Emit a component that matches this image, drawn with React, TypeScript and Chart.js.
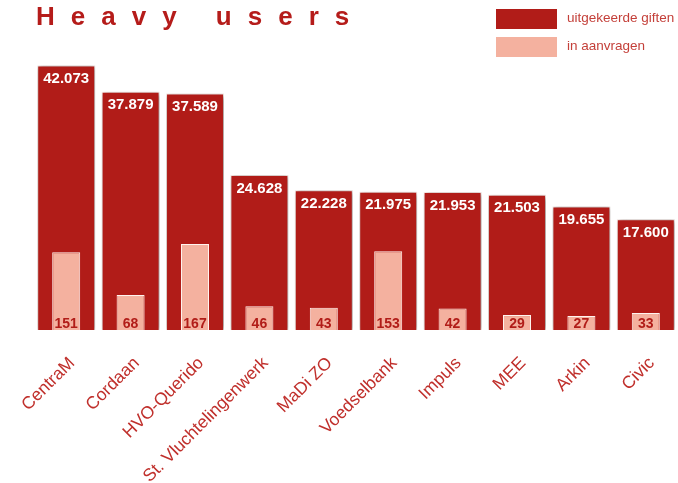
import React, { useEffect, useRef } from 'react';
import { Chart, registerables } from 'chart.js';

Chart.register(...registerables);

const categories = ['CentraM', 'Cordaan', 'HVO-Querido', 'St. Vluchtelingenwerk', 'MaDi ZO', 'Voedselbank', 'Impuls', 'MEE', 'Arkin', 'Civic'];
const giften = [42073, 37879, 37589, 24628, 22228, 21975, 21953, 21503, 19655, 17600];
const aanvragen = [151, 68, 167, 46, 43, 153, 42, 29, 27, 33];
const titleText = 'Heavy users';
const legendLabels = ['uitgekeerde giften', 'in aanvragen'];

const DARK = '#b11c18';
const PINK = '#f4b19f';
const TEXT_RED = '#c0302c';

function fmt(n: number): string {
  return String(n).replace(/\B(?=(\d{3})+(?!\d))/g, '.');
}

export default function App() {
  const ref = useRef<HTMLCanvasElement>(null);

  useEffect(() => {
    if (!ref.current) return;
    const overlay = {
      id: 'overlay',
      beforeDatasetDraw(chart: any, args: any) {
        if (args.index === 0) {
          const ctx = chart.ctx;
          ctx.save();
          ctx.shadowColor = 'rgba(0,0,0,0.5)';
          ctx.shadowBlur = 5;
          ctx.shadowOffsetX = 1;
          ctx.shadowOffsetY = 1;
        }
      },
      afterDatasetDraw(chart: any, args: any) {
        if (args.index === 0) chart.ctx.restore();
      },
      afterDatasetsDraw(chart: any) {
        const ctx = chart.ctx;
        ctx.save();
        const m0 = chart.getDatasetMeta(0);
        ctx.font = 'bold 15px "Liberation Sans", Arial, sans-serif';
        ctx.fillStyle = '#ffffff';
        ctx.textAlign = 'center';
        ctx.textBaseline = 'top';
        m0.data.forEach((el: any, i: number) => {
          ctx.fillText(fmt(giften[i]), el.x, el.y + 6);
        });
        const m1 = chart.getDatasetMeta(1);
        ctx.font = 'bold 14px "Liberation Sans", Arial, sans-serif';
        ctx.fillStyle = DARK;
        ctx.textBaseline = 'alphabetic';
        m1.data.forEach((el: any, i: number) => {
          ctx.fillText(String(aanvragen[i]), el.x, el.base - 2);
        });
        ctx.restore();
      },
      afterDraw(chart: any) {
        const ctx = chart.ctx;
        ctx.save();
        ctx.font = 'bold 26px "Liberation Sans", Arial, sans-serif';
        ctx.fillStyle = '#b51c1a';
        ctx.textAlign = 'left';
        ctx.textBaseline = 'alphabetic';
        let x = 36;
        for (const ch of titleText) {
          ctx.fillText(ch, x, 25);
          x += ctx.measureText(ch).width + 16;
        }
        const colors = [DARK, PINK];
        ctx.font = '13.5px "Liberation Sans", Arial, sans-serif';
        ctx.textBaseline = 'middle';
        legendLabels.forEach((lab, i) => {
          const y = 9 + i * 28;
          ctx.fillStyle = colors[i];
          ctx.fillRect(496, y, 61, 20);
          ctx.fillStyle = '#c4403a';
          ctx.fillText(lab, 567, y + 9);
        });
        ctx.restore();
      },
    };

    const chart = new Chart(ref.current, {
      type: 'bar',
      data: {
        labels: categories,
        datasets: [
          {
            label: legendLabels[0],
            data: giften,
            backgroundColor: DARK,
            borderColor: 'rgba(255,235,230,0.7)',
            borderWidth: 1,
            barPercentage: 0.9,
            categoryPercentage: 1,
            grouped: false,
            order: 1,
            yAxisID: 'y',
          } as any,
          {
            label: legendLabels[1],
            data: aanvragen,
            backgroundColor: PINK,
            borderColor: '#fff3ef',
            borderWidth: 1,
            barPercentage: 0.435,
            categoryPercentage: 1,
            grouped: false,
            order: 0,
            yAxisID: 'y2',
          } as any,
        ],
      },
      options: {
        animation: false,
        responsive: true,
        maintainAspectRatio: false,
        layout: { padding: { left: 34, right: 0, top: 47, bottom: 0 } },
        plugins: {
          legend: { display: false },
          title: { display: false },
          tooltip: { enabled: false },
        },
        scales: {
          x: {
            grid: { display: false },
            border: { display: false },
            ticks: {
              color: TEXT_RED,
              font: { family: '"Liberation Sans", Arial, sans-serif', size: 17.5 },
              maxRotation: 45,
              minRotation: 45,
              autoSkip: false,
              padding: 15,
              labelOffset: 6,
            },
            afterFit: (s: any) => {
              s.height = 153;
            },
          },
          y: { display: false, min: 0, max: 45000 },
          y2: { display: false, min: 0, max: 550 },
        },
      },
      plugins: [overlay],
    });
    return () => chart.destroy();
  }, []);

  return (
    <div style={{ position: 'fixed', left: 0, top: 0, width: 678, height: 483, background: '#fff' }}>
      <canvas ref={ref} />
    </div>
  );
}
